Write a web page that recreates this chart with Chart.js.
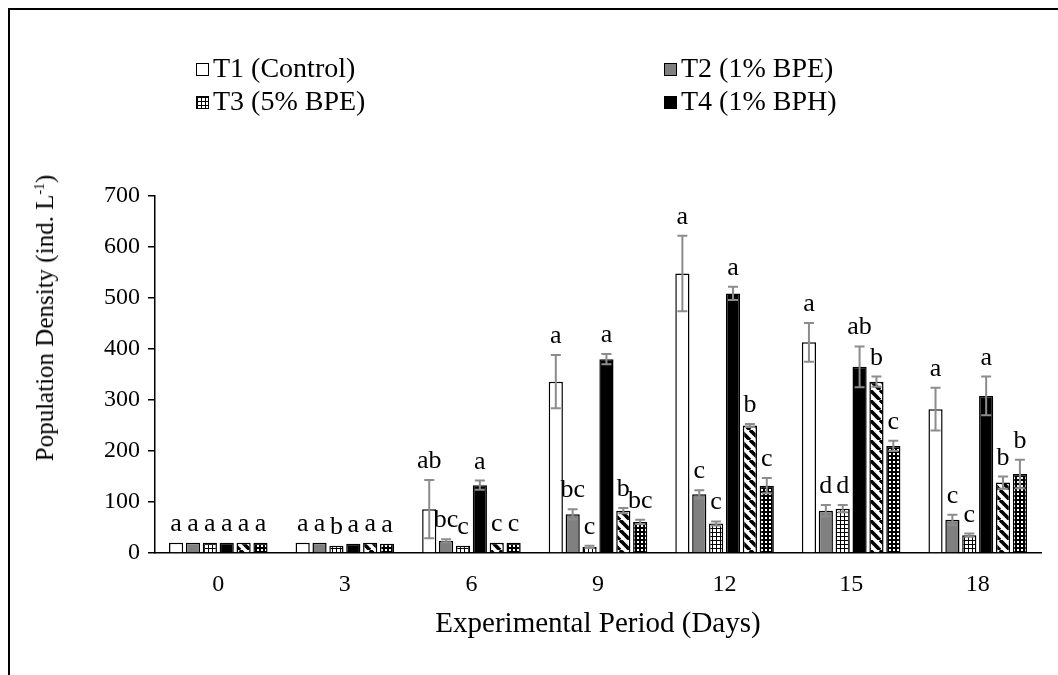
<!DOCTYPE html>
<html>
<head>
<meta charset="utf-8">
<script src="https://cdn.jsdelivr.net/npm/chart.js@4"></script>
<style>
  html, body { margin: 0; padding: 0; background: #fff; }
  #wrap { position: relative; width: 1058px; height: 675px; overflow: hidden; font-family: "Liberation Serif", "Times New Roman", serif; }
  #frame { position: absolute; left: 8px; top: 8px; width: 1100px; height: 700px; border-left: 2px solid #000; border-top: 2px solid #000; }
  #chart { position: absolute; left: 0; top: 0; }
  .leg { position: absolute; font-size: 28px; line-height: 30px; white-space: nowrap; color: #000; }
  .leg i { display: inline-block; width: 11px; height: 11px; border: 1.5px solid #000; margin-right: 4px; vertical-align: 1px; }
  #ytitle { position: absolute; left: 45px; top: 318px; transform: translate(-50%, -50%) rotate(-90deg); font-size: 25px; white-space: nowrap; }
  #ytitle sup { font-size: 14px; }
</style>
</head>
<body>
<div id="wrap">
  <div id="frame"></div>
  <canvas id="chart" width="1058" height="675"></canvas>
  <div id="ytitle">Population Density (ind. L<sup>-1</sup>)</div>
  <div class="leg" style="left:196px; top:53px;"><i id="lg1"></i>T1 (Control)</div>
  <div class="leg" style="left:664px; top:53px;"><i id="lg2"></i>T2 (1% BPE)</div>
  <div class="leg" style="left:196px; top:86px;"><i id="lg3"></i>T3 (5% BPE)</div>
  <div class="leg" style="left:664px; top:86px;"><i id="lg4"></i>T4 (1% BPH)</div>
</div>
<script>
// data
const days = ["0", "3", "6", "9", "12", "15", "18"];
const t1 = [20, 20, 86, 336, 548, 413, 282];
const t2 = [20, 20, 24, 76, 115, 83, 65];
const t3 = [20, 14, 14, 12, 58, 87, 35];
const t4 = [20, 18, 133, 380, 509, 365, 308];
const t5 = [20, 20, 20, 83, 250, 336, 138];
const t6 = [20, 18, 20, 61, 132, 210, 155];

const t1Err = [0, 0, 57, 52, 74, 38, 42];
const t2Err = [0, 0, 3, 10, 8, 11, 10];
const t3Err = [0, 0, 0, 2, 4, 7, 3];
const t4Err = [0, 0, 9, 10, 13, 40, 38];
const t5Err = [0, 0, 0, 5, 3, 10, 12];
const t6Err = [0, 0, 0, 4, 15, 10, 28];

const t1Sig = ["a", "a", "ab", "a", "a", "a", "a"];
const t2Sig = ["a", "a", "bc", "bc", "c", "d", "c"];
const t3Sig = ["a", "b", "c", "c", "c", "d", "c"];
const t4Sig = ["a", "a", "a", "a", "a", "ab", "a"];
const t5Sig = ["a", "a", "c", "b", "b", "b", "b"];
const t6Sig = ["a", "a", "c", "bc", "c", "c", "b"];

const yTicks = [0, 100, 200, 300, 400, 500, 600, 700];

// fill patterns
function makeTile(size, draw) {
    const c = document.createElement("canvas");
    c.width = size; c.height = size;
    draw(c.getContext("2d"), size);
    return c;
}
const gridTile = makeTile(4, (g, s) => {
    g.fillStyle = "#fff"; g.fillRect(0, 0, s, s);
    g.fillStyle = "#000"; g.fillRect(0, 0, s, 1); g.fillRect(0, 0, 1, s);
});
const stripeTile = makeTile(10, (g, s) => {
    g.fillStyle = "#fff"; g.fillRect(0, 0, s, s);
    g.strokeStyle = "#000"; g.lineWidth = 3.6;
    for (let k = -1; k <= 1; k++) {
        g.beginPath(); g.moveTo(k * s, 0); g.lineTo(k * s + s, s); g.stroke();
    }
});
const dotTile = makeTile(4, (g, s) => {
    g.fillStyle = "#000"; g.fillRect(0, 0, s, s);
    g.fillStyle = "#fff"; g.fillRect(1, 1, 2, 2);
});

const ctx = document.getElementById("chart").getContext("2d");
const gridFill = ctx.createPattern(gridTile, "repeat");
const stripeFill = ctx.createPattern(stripeTile, "repeat");
const dotFill = ctx.createPattern(dotTile, "repeat");

document.getElementById("lg1").style.background = "#fff";
document.getElementById("lg2").style.background = "#808080";
document.getElementById("lg3").style.background = "url(" + gridTile.toDataURL() + ")";
document.getElementById("lg4").style.background = "#000";

const errs = [t1Err, t2Err, t3Err, t4Err, t5Err, t6Err];
const sigs = [t1Sig, t2Sig, t3Sig, t4Sig, t5Sig, t6Sig];

// error bars + significance letters
const errorBars = {
    id: "errorBars",
    afterDatasetsDraw(chart) {
        const c = chart.ctx;
        const y = chart.scales.y;
        c.save();
        chart.data.datasets.forEach((ds, di) => {
            const meta = chart.getDatasetMeta(di);
            meta.data.forEach((bar, i) => {
                const v = ds.data[i];
                const e = errs[di][i];
                let top = y.getPixelForValue(v);
                if (e > 0) {
                    const hi = y.getPixelForValue(v + e);
                    const lo = y.getPixelForValue(v - e);
                    c.strokeStyle = "#8c8c8c";
                    c.lineWidth = 2;
                    c.beginPath();
                    c.moveTo(bar.x, hi); c.lineTo(bar.x, lo);
                    c.moveTo(bar.x - 5, hi); c.lineTo(bar.x + 5, hi);
                    c.moveTo(bar.x - 5, lo); c.lineTo(bar.x + 5, lo);
                    c.stroke();
                    top = hi;
                }
                c.fillStyle = "#000";
                c.font = '26px "Liberation Serif", serif';
                c.textAlign = "center";
                c.textBaseline = "alphabetic";
                c.fillText(sigs[di][i], bar.x, top - 12);
            });
        });
        c.restore();
    }
};

const barStyle = { borderColor: "#000", borderWidth: 1.5, categoryPercentage: 0.8, barPercentage: 0.84 };

new Chart(ctx, {
    type: "bar",
    data: {
        labels: days,
        datasets: [
            { label: "T1 (Control)", data: t1, backgroundColor: "#fff", ...barStyle },
            { label: "T2 (1% BPE)", data: t2, backgroundColor: "#808080", ...barStyle },
            { label: "T3 (5% BPE)", data: t3, backgroundColor: gridFill, ...barStyle },
            { label: "T4 (1% BPH)", data: t4, backgroundColor: "#000", ...barStyle },
            { label: "T5", data: t5, backgroundColor: stripeFill, ...barStyle },
            { label: "T6", data: t6, backgroundColor: dotFill, ...barStyle },
        ],
    },
    options: {
        responsive: false,
        animation: false,
        layout: { padding: { left: 10, top: 196, right: 17, bottom: 0 } },
        plugins: { legend: { display: false }, tooltip: { enabled: false } },
        scales: {
            x: {
                grid: { display: false, drawTicks: false },
                border: { display: true, color: "#000", width: 1.5 },
                ticks: { color: "#000", padding: 17, font: { family: "Liberation Serif", size: 24 } },
                title: {
                    display: true, text: "Experimental Period (Days)", color: "#000",
                    font: { family: "Liberation Serif", size: 29 }, padding: { bottom: 33 },
                },
                afterFit: (s) => { s.height = 122; },
            },
            y: {
                min: 0,
                max: 700,
                afterBuildTicks: (s) => { s.ticks = yTicks.map((v) => ({ value: v })); },
                grid: { drawOnChartArea: false, drawTicks: true, tickLength: 7, color: "#000", lineWidth: 1.5 },
                border: { display: true, color: "#000", width: 1.5 },
                ticks: { color: "#000", padding: 8, font: { family: "Liberation Serif", size: 24 } },
                afterFit: (s) => { s.width = 145; },
            },
        },
    },
    plugins: [errorBars],
});
</script>
</body>
</html>
